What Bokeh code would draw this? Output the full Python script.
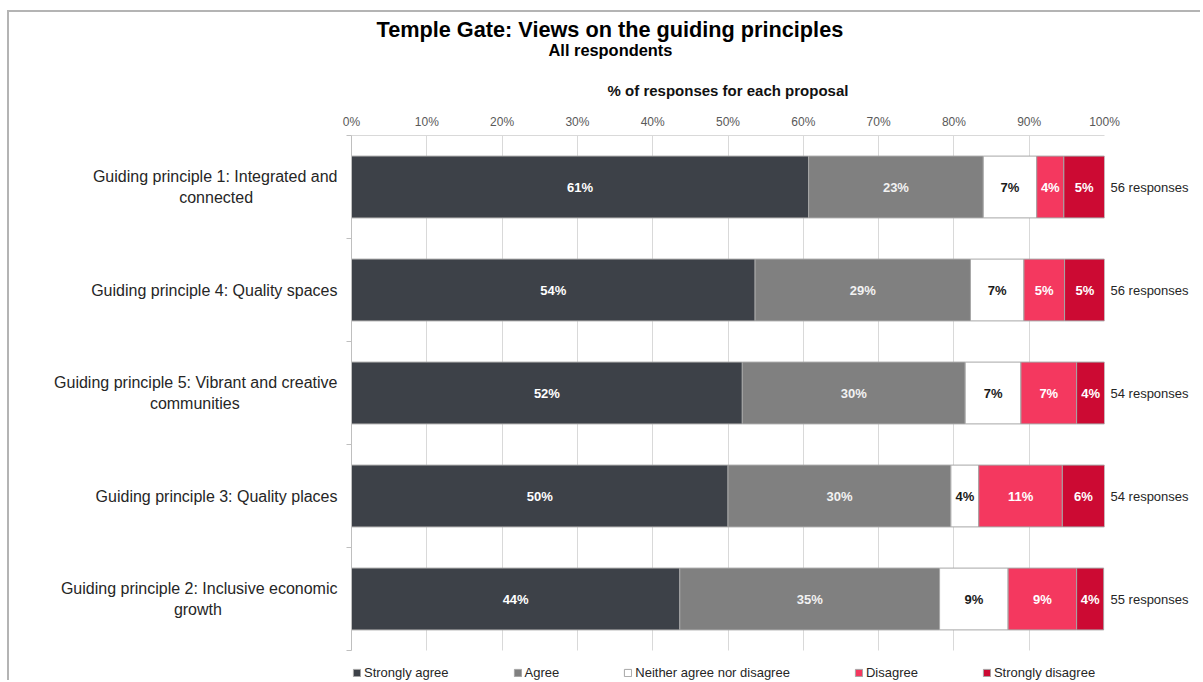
from bokeh.plotting import figure
from bokeh.models import FixedTicker, LinearAxis, Title, Legend, LegendItem, Range1d, BoxAnnotation
from bokeh.core.properties import value
from bokeh.embed import file_html
from bokeh.resources import INLINE

FONT = "Liberation Sans"
NB = "\u00a0"

# ---------------- data ----------------
categories = [
    "Guiding principle 1: Integrated and\nconnected",
    "Guiding principle 4: Quality spaces",
    "Guiding principle 5: Vibrant and creative\ncommunities",
    "Guiding principle 3: Quality places",
    "Guiding principle 2: Inclusive economic\ngrowth",
]
responses = ["56 responses", "56 responses", "54 responses", "54 responses", "55 responses"]
series_names = ["Strongly agree", "Agree", "Neither agree nor disagree", "Disagree", "Strongly disagree"]
strongly_agree = [60.7, 53.6, 51.9, 50.0, 43.6]
agree = [23.2, 28.6, 29.6, 29.6, 34.5]
neither = [7.1, 7.1, 7.4, 3.7, 9.1]
disagree = [3.6, 5.4, 7.4, 11.1, 9.1]
strongly_disagree = [5.4, 5.4, 3.7, 5.6, 3.6]
x_ticks = [0, 10, 20, 30, 40, 50, 60, 70, 80, 90, 100]

title_text = "Temple Gate: Views on the guiding principles"
subtitle_text = "All respondents"
axis_title = "% of responses for each proposal"

# ---------------- styles / layout ----------------
fill_colors = ["#3d4148", "#808080", "#ffffff", "#f4385f", "#cc0a33"]
label_colors = ["#ffffff", "#f2f2f2", "#1a1a1a", "#ffffff", "#ffffff"]
series_values = [strongly_agree, agree, neither, disagree, strongly_disagree]
# trailing no-break spaces so that the short second line sits centred under the first
second_line_pad = [19, 0, 22, 0, 26]

n = len(categories)
ypos = list(range(n))


def centred(label, pad):
    if "\n" not in label:
        return label
    first, second = label.split("\n")
    return first + "\n" + second + NB * pad


W, H = 1200, 680
FRAME_L, FRAME_R, FRAME_T, BANDS_B = 351, 1104, 135, 650
# frame reaches the bottom of the canvas so that the legend sits inside it
y_bottom = -0.5 + n * (H - FRAME_T) / (BANDS_B - FRAME_T)

p = figure(width=W, height=H, output_backend="svg", toolbar_location=None, tools="",
           x_range=Range1d(0, 100), y_range=Range1d(y_bottom, -0.5),
           x_axis_location="above",
           min_border_left=FRAME_L, min_border_right=W - FRAME_R,
           min_border_top=FRAME_T, min_border_bottom=0,
           outline_line_color=None, border_fill_alpha=0)
p.styles = {"background": "linear-gradient(#b4b4b4,#b4b4b4) 7px 10px / 1200px 2px no-repeat, "
                          "linear-gradient(#b4b4b4,#b4b4b4) 7px 10px / 2px 700px no-repeat, white"}

p.xgrid.ticker = FixedTicker(ticks=x_ticks)
p.xgrid.grid_line_color = "#d9d9d9"
p.ygrid.visible = False
# hide grid lines below the last band
p.add_layout(BoxAnnotation(top=n - 0.5, bottom=y_bottom, fill_color="white", fill_alpha=1,
                           line_alpha=0, level="underlay"))

renderers = []
left = [0.0] * n
for name, vals, col, lc in zip(series_names, series_values, fill_colors, label_colors):
    right = [l + v for l, v in zip(left, vals)]
    r = p.hbar(y=ypos, left=left, right=right, height=0.6,
               fill_color=col, line_color="#a6a6a6", line_width=1)
    renderers.append(r)
    mids = [(l + rr) / 2 for l, rr in zip(left, right)]
    p.text(x=mids, y=ypos, text=[f"{int(v + 0.5)}%" for v in vals],
           text_align="center", text_baseline="middle",
           text_font=value(FONT), text_font_style="bold", text_font_size="13px",
           text_color=lc)
    left = right

# x axis (top)
xa = p.xaxis[0]
xa.ticker = FixedTicker(ticks=x_ticks)
xa.major_label_overrides = {t: f"{t}%" for t in x_ticks}
xa.axis_label = axis_title
xa.axis_label_text_font = FONT
xa.axis_label_text_font_size = "15px"
xa.axis_label_text_font_style = "bold"
xa.axis_label_text_color = "#111111"
xa.axis_label_standoff = 13
xa.major_label_text_font = FONT
xa.major_label_text_font_size = "12px"
xa.major_label_text_color = "#595959"
xa.major_label_standoff = 7
xa.major_tick_out = 0
xa.major_tick_in = 0
xa.minor_tick_out = 0
xa.minor_tick_in = 0
xa.axis_line_color = "#d9d9d9"

# left axis with category labels
ya = p.yaxis[0]
ya.bounds = (-0.5, n - 0.5)
ya.ticker = FixedTicker(ticks=ypos, minor_ticks=[i - 0.5 for i in range(n + 1)])
ya.major_label_overrides = {i: centred(c, pad) for i, c, pad in zip(ypos, categories, second_line_pad)}
ya.major_tick_out = 0
ya.major_tick_in = 0
ya.minor_tick_out = 5
ya.minor_tick_in = 0
ya.minor_tick_line_color = "#bfbfbf"
ya.axis_line_color = "#bfbfbf"
ya.major_label_standoff = 9
ya.major_label_text_font = FONT
ya.major_label_text_font_size = "16px"
ya.major_label_text_color = "#262626"

# right axis with response counts
ra = LinearAxis(ticker=FixedTicker(ticks=ypos), bounds=(-0.5, n - 0.5),
                major_label_overrides={i: r for i, r in zip(ypos, responses)},
                axis_line_color=None, major_tick_line_color=None, minor_tick_line_color=None,
                major_tick_out=0, major_tick_in=0, minor_tick_out=0, minor_tick_in=0,
                major_label_standoff=6, major_label_text_font=FONT,
                major_label_text_font_size="13px", major_label_text_color="#262626")
p.add_layout(ra, "right")

# titles (stacked above the top axis)
p.add_layout(Title(text=" ", text_font_size="10px", standoff=7), "above")
p.add_layout(Title(text=subtitle_text, align="left", offset=197, standoff=0,
                   text_font=FONT, text_font_size="16.4px", text_font_style="bold",
                   text_color="#000000"), "above")
p.title.text = title_text
p.title.align = "left"
p.title.offset = 25
p.title.standoff = -6
p.title.text_font = FONT
p.title.text_font_size = "21.7px"
p.title.text_font_style = "bold"
p.title.text_color = "#000000"

legend = Legend(items=[LegendItem(label=s, renderers=[r]) for s, r in zip(series_names, renderers)],
                orientation="horizontal", location=(1, 0), margin=0, padding=0,
                spacing=64, label_standoff=3, glyph_width=9, glyph_height=9, label_height=14,
                label_text_font=FONT, label_text_font_size="13px", label_text_color="#262626",
                border_line_color=None, background_fill_alpha=0)
p.add_layout(legend)

open("out.html", "w").write(file_html(p, INLINE))
